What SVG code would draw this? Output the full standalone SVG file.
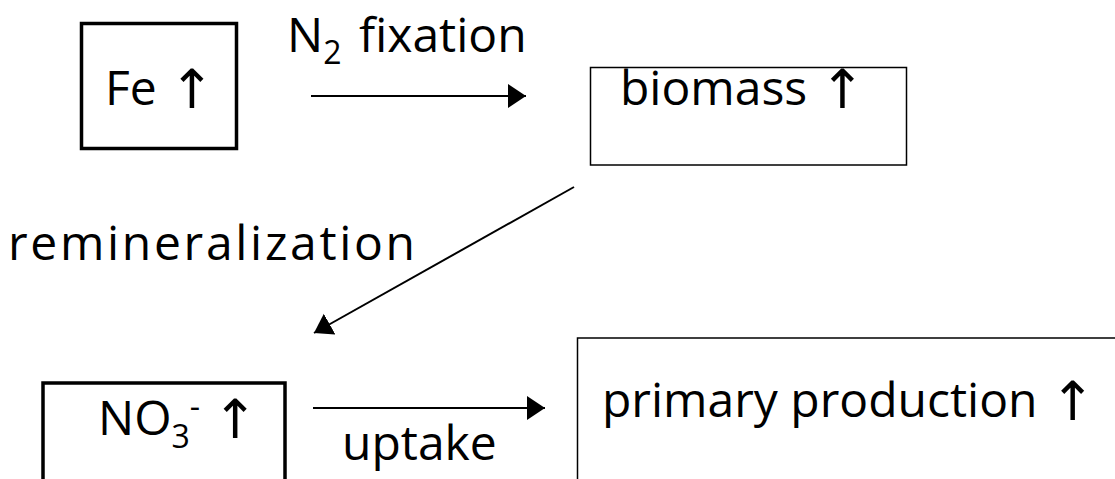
<svg xmlns="http://www.w3.org/2000/svg" width="1115" height="479" viewBox="0 0 1115 479">
  <style>
    .box { fill: #ffffff; stroke: #000000; }
    .thick { stroke-width: 3.5; }
    .thin { stroke-width: 1.5; }
    .lbl { font-family: "Open Sans", "Liberation Sans", sans-serif; font-size: 48px; fill: #000000; }
    .sym { font-family: "DejaVu Sans", "Liberation Sans", sans-serif; font-size: 54px; }
    .sub { font-size: 32px; }
    .link { stroke: #000000; stroke-width: 2; fill: none; }
  </style>
  <defs>
    <marker id="head" markerUnits="userSpaceOnUse" markerWidth="20" markerHeight="25" refX="18" refY="12" orient="auto" viewBox="0 0 20 25">
      <path d="M0,0 L18,12 L0,24 Z" fill="#000000"/>
    </marker>
  </defs>

  <rect width="1115" height="479" fill="#ffffff"/>

  <!-- connectors -->
  <g id="connectors">
    <line class="link" x1="311" y1="96" x2="526" y2="96" marker-end="url(#head)"/>
    <line class="link" x1="574" y1="187" x2="314" y2="333" marker-end="url(#head)"/>
    <line class="link" x1="313" y1="408" x2="545" y2="408" marker-end="url(#head)"/>
    <text class="lbl" x="287" y="52">N<tspan class="sub" dy="12">2</tspan><tspan dy="-12" x="359">fixation</tspan></text>
    <text class="lbl" x="8" y="260" font-size="52" textLength="407">remineralization</text>
    <text class="lbl" x="342" y="460">uptake</text>
  </g>

  <!-- nodes -->
  <g id="fe">
    <rect class="box thick" x="81.5" y="23.5" width="155" height="125"/>
    <text class="lbl" x="105" y="105">Fe <tspan class="sym" dy="3">↑</tspan></text>
  </g>

  <g id="biomass">
    <rect class="box thin" x="590.5" y="67.5" width="316" height="97.5"/>
    <text class="lbl" x="620" y="105">biomass <tspan class="sym" dy="3">↑</tspan></text>
  </g>

  <g id="nitrate">
    <rect class="box thick" x="43" y="383" width="242" height="120"/>
    <text class="lbl" x="98" y="435">NO<tspan class="sub" dy="13">3</tspan><tspan class="sub" dy="-30">-</tspan><tspan dy="17"> </tspan><tspan class="sym" dy="3">↑</tspan></text>
  </g>

  <g id="production">
    <rect class="box thin" x="577.5" y="338" width="600" height="200"/>
    <text class="lbl" x="602" y="417">primary production <tspan class="sym" dy="3">↑</tspan></text>
  </g>
</svg>
